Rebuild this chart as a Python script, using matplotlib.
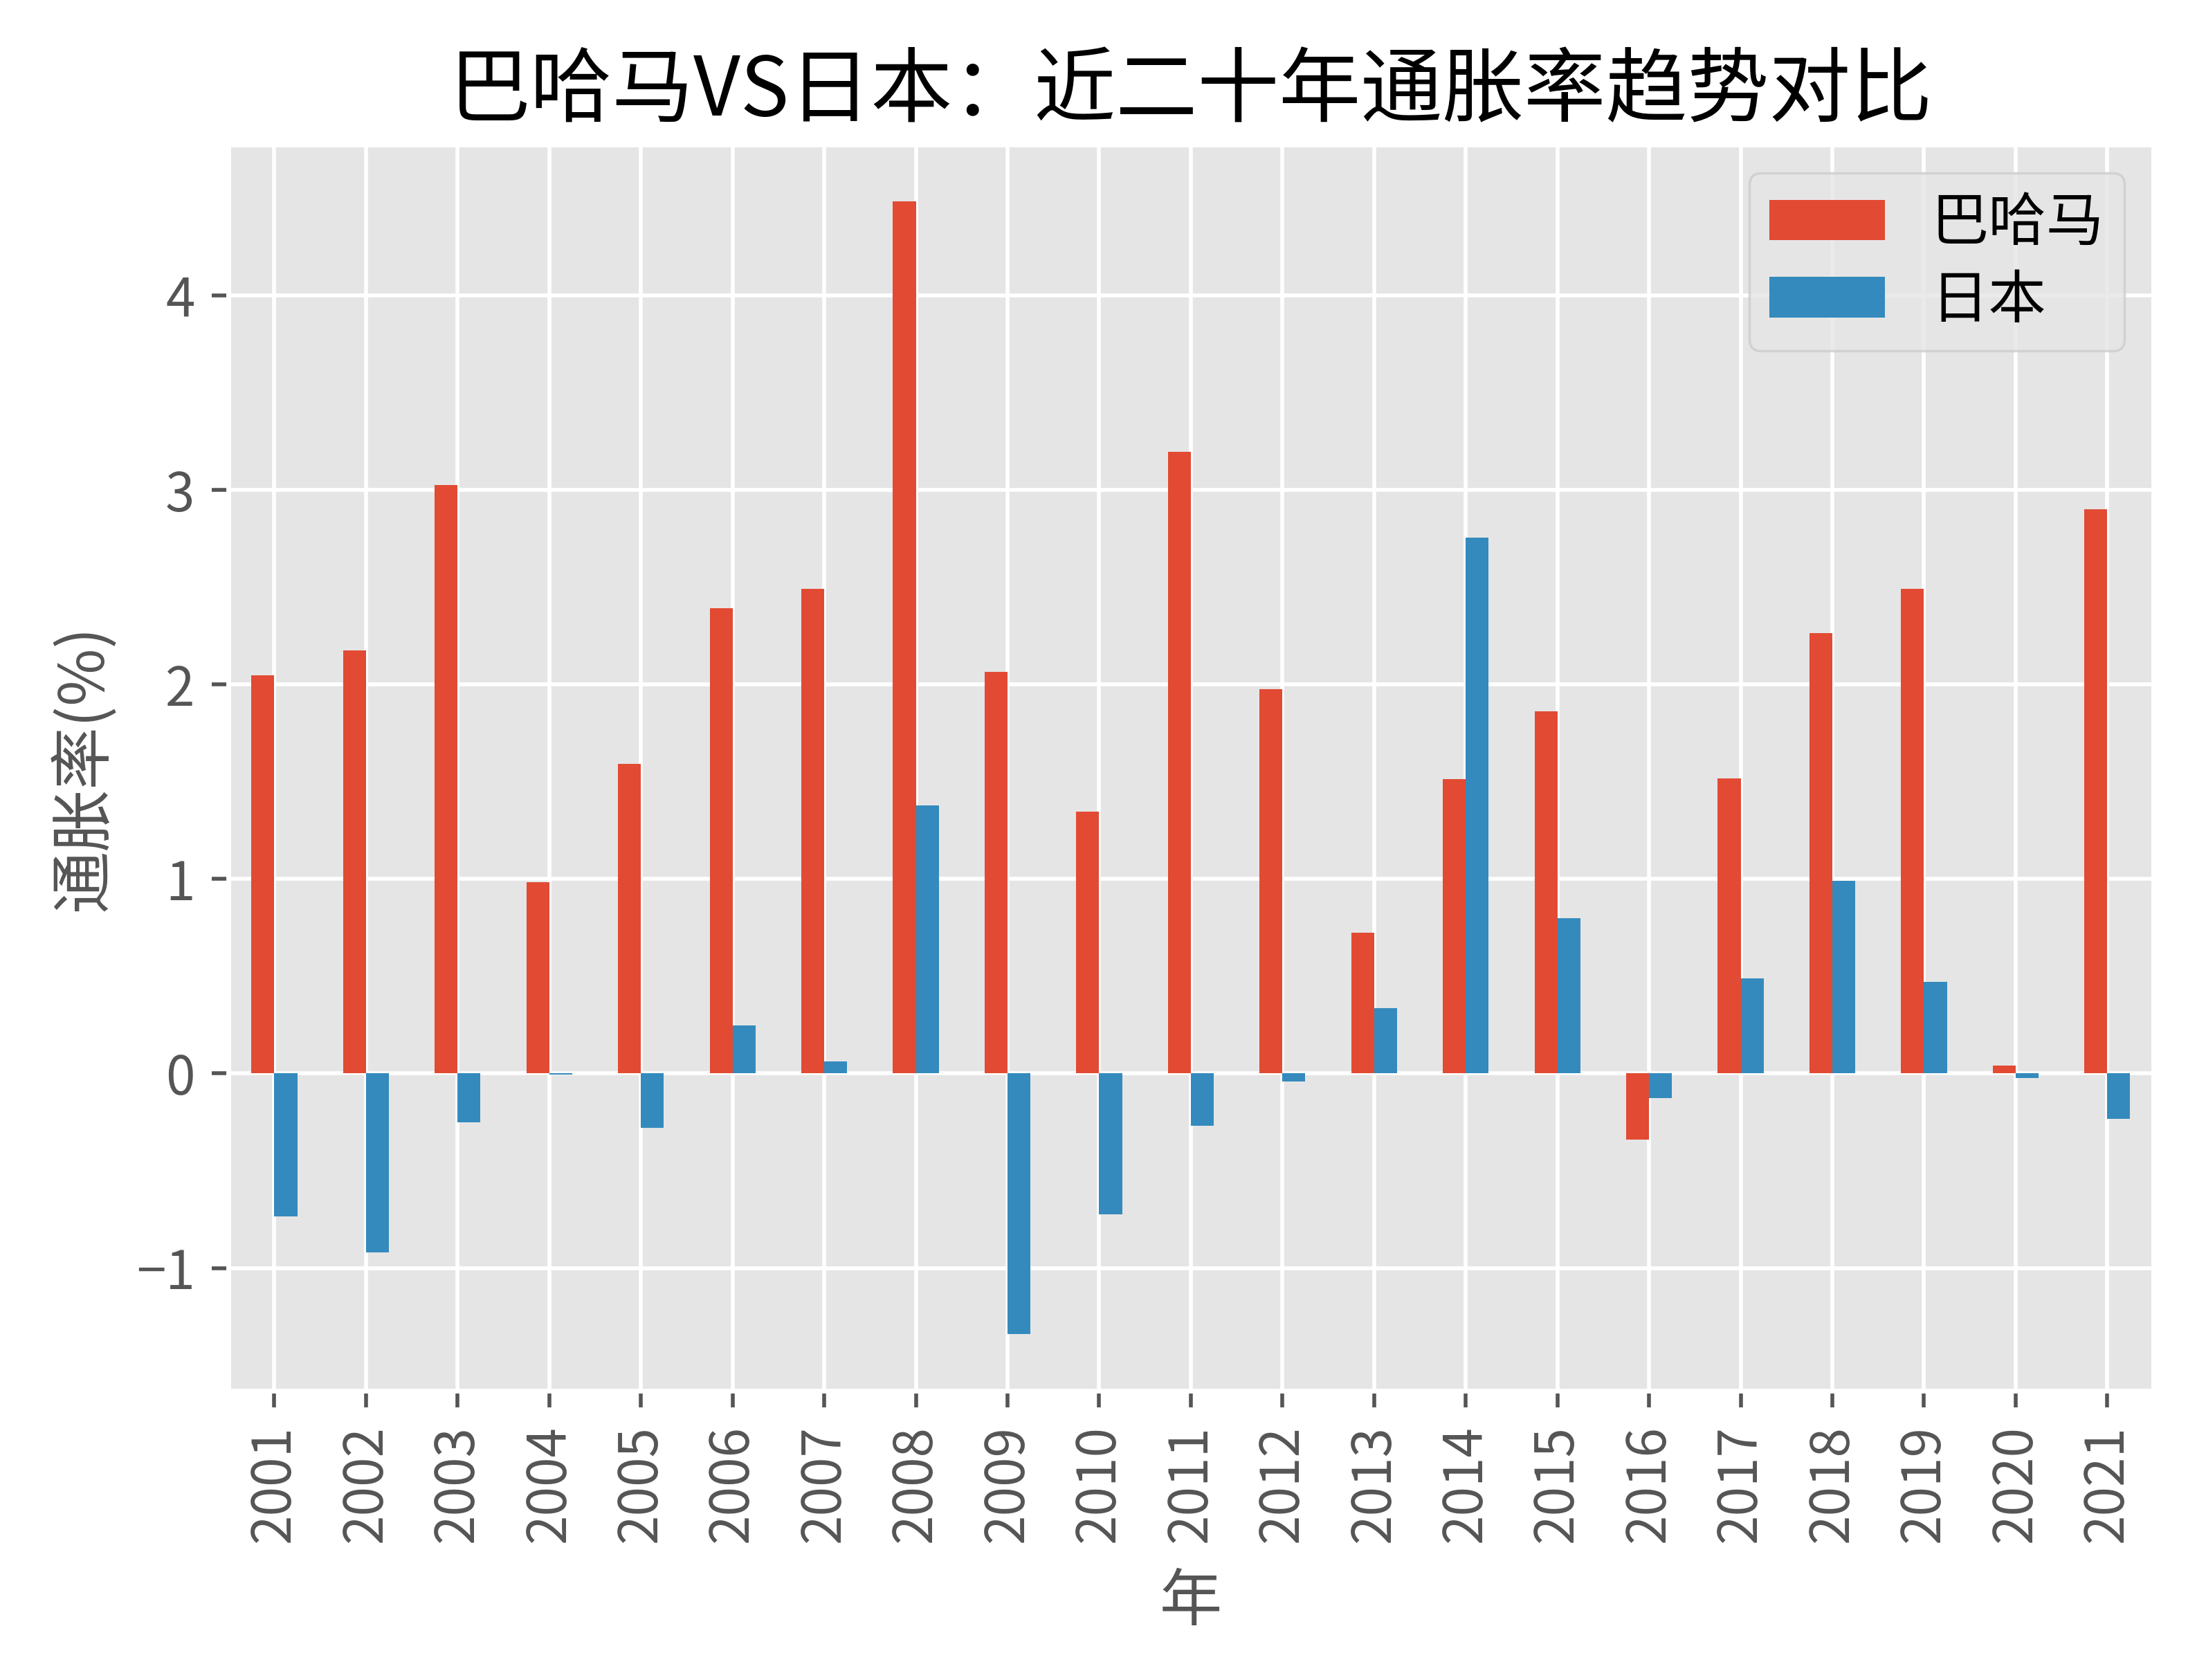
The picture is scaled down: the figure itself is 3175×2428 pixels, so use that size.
import pandas as pd
import matplotlib
matplotlib.use("Agg")
import matplotlib.pyplot as plt

plt.style.use("ggplot")
plt.rcParams['font.family'] = ['Noto Sans CJK SC', 'DejaVu Sans']
plt.rcParams['axes.unicode_minus'] = True

years = [2001, 2002, 2003, 2004, 2005, 2006, 2007, 2008, 2009, 2010, 2011,
         2012, 2013, 2014, 2015, 2016, 2017, 2018, 2019, 2020, 2021]
bahamas = [2.045, 2.175, 3.024, 0.984, 1.593, 2.390, 2.492, 4.484, 2.065, 1.346, 3.195,
           1.976, 0.724, 1.512, 1.862, -0.341, 1.516, 2.264, 2.492, 0.041, 2.902]
japan = [-0.736, -0.919, -0.252, -0.005, -0.280, 0.248, 0.061, 1.378, -1.341, -0.724, -0.268,
         -0.041, 0.337, 2.756, 0.797, -0.126, 0.488, 0.992, 0.472, -0.024, -0.232]

df = pd.DataFrame({'巴哈马': bahamas, '日本': japan}, index=years)

fig, ax = plt.subplots(figsize=(6.35, 4.856), dpi=500)
df.plot(kind='bar', ax=ax)

ax.set_title('巴哈马VS日本：近二十年通胀率趋势对比', fontsize=17)
ax.set_xlabel('年', fontsize=13, labelpad=6)
ax.set_ylabel('通胀率(%)', fontsize=13)
ax.tick_params(axis='both', labelsize=11)
ax.legend(fontsize=12, loc='upper right', labelspacing=0.3, borderpad=0.35)

fig.subplots_adjust(left=0.104, right=0.98, top=0.914, bottom=0.172)
fig.savefig('out.png', dpi=500)
